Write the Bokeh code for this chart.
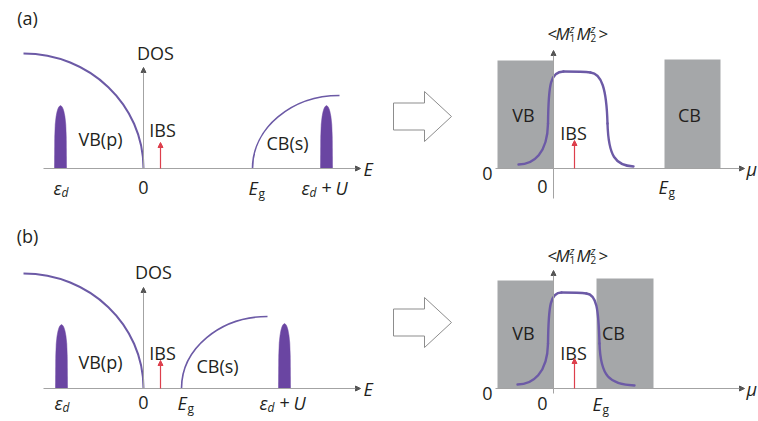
import numpy as np
from bokeh.plotting import figure
from bokeh.layouts import column, row
from bokeh.models import Range1d, Arrow, NormalHead
from bokeh.core.properties import value
from bokeh.embed import file_html
from bokeh.resources import INLINE

FONT = "Open Sans"
INK = "#231f20"
AXIS = "#a3a3a3"
BAND_LINE = "#6c5aa6"
PEAK_FILL = "#6a45a2"
GAP_GREY = "#a5a7a9"
IBS_RED = "#dd3f4c"
K = 0.5523  # cubic Bezier constant for a quarter ellipse
TXT = 18    # main label size, px
SUB = 12    # sub/superscript size, px

# ---- density of states (energy in schematic units, 0 = valence-band top) ----
EPS_D = {"a": -0.83, "b": -0.82}
EPS_D_U = {"a": 1.83, "b": 1.41}
E_GAP = {"a": 1.09, "b": 0.38}
PEAK_LO_H = {"a": 0.63, "b": 0.64}
PEAK_HI_H = {"a": 0.63, "b": 0.65}
PEAK_HALF_W = 0.06
# bullet-shaped d-level peak: half-width fraction at each height fraction
PEAK_PROFILE_H = [0.0, 0.5, 0.7, 0.82, 0.9, 0.95, 0.98, 1.0]
PEAK_PROFILE_W = [1.0, 0.96, 0.88, 0.74, 0.58, 0.42, 0.26, 0.0]
VB_CENTER, VB_HALF_W, VB_HEIGHT = -1.20, 1.20, 1.15
CB_HALF_W = {"a": 0.87, "b": 0.86}
CB_HEIGHT = {"a": 0.73, "b": 0.72}
IBS_E = 0.17
IBS_H = {"a": 0.26, "b": 0.28}
E_AXIS = (-1.0, 2.17)
DOS_AXIS_TOP = 1.01

# ---- spin correlation <M1z M2z> versus chemical potential mu ----
MU_GAP = {"a": 1.05, "b": 0.39}
VB_BOX = {"a": (-0.56, 0.0, 1.08), "b": (-0.56, 0.0, 1.08)}
CB_BOX = {"a": (1.11, 1.67, 1.09), "b": (0.43, 1.00, 1.10)}
IBS_MU = 0.21
IBS_MU_H = {"a": 0.28, "b": 0.30}
MU_AXIS = (-0.58, 1.91)
CORR_AXIS = {"a": (-0.30, 1.18), "b": (-0.05, 1.18)}
# piecewise cubic Bezier of the correlation curve: nodes and control points
CORR_NODE_X = {"a": [-0.35, -0.055, 0.10, 0.37, 0.54, 0.80],
               "b": [-0.36, -0.055, 0.08, 0.33, 0.46, 0.81]}
CORR_NODE_Y = {"a": [0.04, 0.45, 0.97, 0.96, 0.45, 0.02],
               "b": [0.04, 0.45, 0.96, 0.95, 0.45, 0.03]}
CORR_C0_X = {"a": [-0.20, -0.05, 0.19, 0.48, 0.55], "b": [-0.21, -0.05, 0.16, 0.43, 0.47]}
CORR_C0_Y = {"a": [0.04, 0.85, 0.97, 0.95, 0.12], "b": [0.04, 0.84, 0.96, 0.94, 0.12]}
CORR_C1_X = {"a": [-0.06, -0.03, 0.30, 0.53, 0.62], "b": [-0.06, -0.03, 0.26, 0.45, 0.56]}
CORR_C1_Y = {"a": [0.15, 0.97, 0.97, 0.80, 0.03], "b": [0.15, 0.96, 0.96, 0.80, 0.04]}
# hollow "leads to" arrow between the two panels
BLOCK_ARROW_X = [-1.60, -1.29, -1.29, -1.02, -1.29, -1.29, -1.60]
BLOCK_ARROW_DY = [0.135, 0.135, 0.25, 0.0, -0.25, -0.135, -0.135]
BLOCK_ARROW_Y0 = {"a": 0.52, "b": 0.66}

# ---- label anchors ----
PANEL_TAG_POS = {"a": (-1.16, 1.51), "b": (-1.16, 1.53)}
DOS_POS = {"a": (0.12, 1.16), "b": (0.10, 1.17)}
VBP_POS = {"a": (-0.43, 0.30), "b": (-0.43, 0.27)}
IBS_POS = {"a": (0.19, 0.39), "b": (0.19, 0.36)}
CBS_POS = {"a": (1.44, 0.26), "b": (0.74, 0.23)}
TICK_Y = {"a": -0.19, "b": -0.14}
VB_POS = {"a": (-0.30, 0.54), "b": (-0.30, 0.56)}
CB_POS = {"a": (1.36, 0.54), "b": (0.60, 0.56)}
IBS_R_POS = {"a": (0.20, 0.36), "b": (0.20, 0.36)}
CORR_LABEL_POS = {"a": (-0.06, 1.35), "b": (-0.06, 1.33)}
MU_TICK_Y = {"a": -0.18, "b": -0.15}

TOP_H, BOT_H = 206, 215
LEFT_W, RIGHT_W = 380, 378
BASE_PX = {"a": 168, "b": 182}


def make_fig(w, h, x0px, base_px):
    x_range = Range1d(-x0px / 100, (w - x0px) / 100)
    y_range = Range1d(-(h - base_px) / 100, base_px / 100)
    p = figure(width=w, height=h, x_range=x_range, y_range=y_range,
               output_backend="svg", toolbar_location=None, min_border=0)
    p.axis.visible = False
    p.grid.visible = False
    p.outline_line_color = None
    p.background_fill_color = "white"
    p.border_fill_color = "white"
    return p


def label(p, x, y, txt, size=TXT, style="normal", align="center"):
    p.text(x=[x], y=[y], text=[txt], text_font=value(FONT), text_font_size=f"{size}px",
           text_font_style=style, text_align=align, text_baseline="middle", text_color=INK)


def rich(p, x, y, parts):
    # parts: (text, x offset px, y offset px, size px, style)
    for txt, dx, dy, size, style in parts:
        p.text(x=[x], y=[y], text=[txt], x_offset=dx, y_offset=dy,
               text_font=value(FONT), text_font_size=f"{size}px", text_font_style=style,
               text_align="left", text_baseline="middle", text_color=INK)


def axis_arrow(p, xs, ys, xe, ye, color=AXIS, head_color="#555555", size=5):
    p.add_layout(Arrow(end=NormalHead(size=size, fill_color=head_color, line_color=head_color),
                       x_start=xs, y_start=ys, x_end=xe, y_end=ye,
                       line_color=color, line_width=1))


EPS_D_RUNS = [("ε", 0, 0, TXT, "italic"), ("d", 8, 5, SUB, "italic")]
E_G_RUNS = [("E", 0, 0, TXT, "italic"), ("g", 10, 6, SUB, "normal")]
EPS_D_U_RUNS = [("ε", 0, 0, TXT, "italic"), ("d", 8, 5, SUB, "italic"),
                ("+", 20, 0, TXT, "normal"), ("U", 34, 0, TXT, "italic")]
CORR_RUNS = [("<", 0, 0, 17, "normal"), ("M", 8, 0, 17, "italic"),
             ("z", 22, -5, 11, "italic"), ("1", 22, 4, 10, "normal"),
             ("M", 29, 0, 17, "italic"), ("z", 43, -5, 11, "italic"),
             ("2", 43, 4, 10, "normal"), (">", 51, 0, 17, "normal")]


def dos_panel(k, h):
    p = make_fig(LEFT_W, h, 143, BASE_PX[k])
    # axes
    axis_arrow(p, E_AXIS[0], 0, E_AXIS[1], 0)
    axis_arrow(p, 0, 0, 0, DOS_AXIS_TOP)
    # valence band: quarter of a semi-elliptic DOS
    p.bezier(x0=[VB_CENTER], y0=[VB_HEIGHT], x1=[VB_CENTER + VB_HALF_W], y1=[0],
             cx0=[VB_CENTER + K * VB_HALF_W], cy0=[VB_HEIGHT],
             cx1=[VB_CENTER + VB_HALF_W], cy1=[K * VB_HEIGHT],
             line_color=BAND_LINE, line_width=2)
    # conduction band edge at E_g
    eg, a, b = E_GAP[k], CB_HALF_W[k], CB_HEIGHT[k]
    p.bezier(x0=[eg], y0=[0], x1=[eg + a], y1=[b],
             cx0=[eg], cy0=[K * b], cx1=[eg + a - K * a], cy1=[b],
             line_color=BAND_LINE, line_width=1.6)
    # localized d levels
    hw = np.array(PEAK_PROFILE_W) * PEAK_HALF_W
    hf = np.array(PEAK_PROFILE_H)
    for c, hgt in ((EPS_D[k], PEAK_LO_H[k]), (EPS_D_U[k], PEAK_HI_H[k])):
        xs = np.concatenate([c - hw, (c + hw)[::-1]])
        ys = np.concatenate([hf * hgt, (hf * hgt)[::-1]])
        p.patch(xs, ys, fill_color=PEAK_FILL, line_color=PEAK_FILL, line_width=0.5)
    # impurity band state
    p.add_layout(Arrow(end=NormalHead(size=5, fill_color=IBS_RED, line_color=IBS_RED),
                       x_start=IBS_E, y_start=0, x_end=IBS_E, y_end=IBS_H[k],
                       line_color=IBS_RED, line_width=1.2))
    # texts
    label(p, *PANEL_TAG_POS[k], f"({k})")
    label(p, *DOS_POS[k], "DOS")
    label(p, *VBP_POS[k], "VB(p)")
    label(p, *IBS_POS[k], "IBS")
    label(p, *CBS_POS[k], "CB(s)")
    label(p, E_AXIS[1] + 0.03, 0.0, "E", style="italic", align="left")
    ty = TICK_Y[k]
    rich(p, EPS_D[k] - 0.07, ty, EPS_D_RUNS)
    label(p, 0.0, ty, "0")
    rich(p, E_GAP[k] - 0.04, ty, E_G_RUNS)
    rich(p, EPS_D_U[k] - 0.25, ty, EPS_D_U_RUNS)
    return p


def corr_panel(k, h):
    p = make_fig(RIGHT_W, h, 173, BASE_PX[k])
    # hollow arrow
    ys = [BLOCK_ARROW_Y0[k] + d for d in BLOCK_ARROW_DY]
    p.patch(BLOCK_ARROW_X, ys, fill_color="white", line_color="#8d8d8d", line_width=1)
    # band regions
    for x0, x1, top in (VB_BOX[k], CB_BOX[k]):
        p.quad(left=[x0], right=[x1], bottom=[0], top=[top], fill_color=GAP_GREY, line_color=None)
    # axes
    axis_arrow(p, MU_AXIS[0], 0, MU_AXIS[1], 0)
    axis_arrow(p, 0, CORR_AXIS[k][0], 0, CORR_AXIS[k][1])
    # correlation curve
    nx, ny = CORR_NODE_X[k], CORR_NODE_Y[k]
    p.bezier(x0=nx[:-1], y0=ny[:-1], x1=nx[1:], y1=ny[1:],
             cx0=CORR_C0_X[k], cy0=CORR_C0_Y[k], cx1=CORR_C1_X[k], cy1=CORR_C1_Y[k],
             line_color=BAND_LINE, line_width=2.4, line_cap="round")
    # impurity band state
    p.add_layout(Arrow(end=NormalHead(size=5, fill_color=IBS_RED, line_color=IBS_RED),
                       x_start=IBS_MU, y_start=0, x_end=IBS_MU, y_end=IBS_MU_H[k],
                       line_color=IBS_RED, line_width=1.2))
    # texts
    rich(p, *CORR_LABEL_POS[k], CORR_RUNS)
    label(p, *VB_POS[k], "VB")
    label(p, *CB_POS[k], "CB")
    label(p, *IBS_R_POS[k], "IBS")
    label(p, MU_AXIS[0] - 0.08, -0.05, "0")
    label(p, -0.11, MU_TICK_Y[k], "0")
    rich(p, MU_GAP[k], MU_TICK_Y[k], E_G_RUNS)
    label(p, MU_AXIS[1] + 0.02, 0.0, "μ", style="italic", align="left")
    return p


top = row(dos_panel("a", TOP_H), corr_panel("a", TOP_H), spacing=0)
bottom = row(dos_panel("b", BOT_H), corr_panel("b", BOT_H), spacing=0)
layout = column(top, bottom, spacing=0)

open("out.html", "w").write(file_html(layout, INLINE))
